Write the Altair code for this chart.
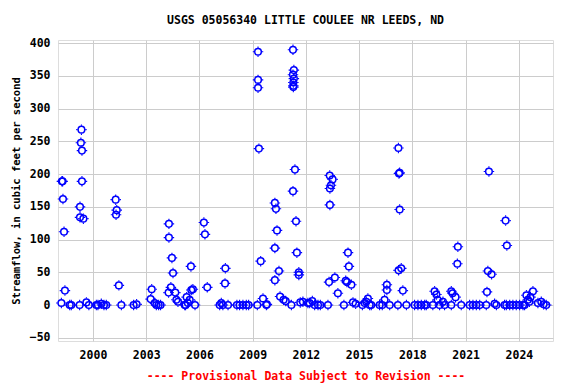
import altair as alt
import pandas as pd

years = [
    1998.22, 1998.25, 1998.29, 1998.31, 1998.37, 1998.42, 1998.69, 1998.78,
    1999.25, 1999.27, 1999.27, 1999.32, 1999.35, 1999.38, 1999.38, 1999.46,
    1999.63, 1999.77, 2000.19, 2000.28, 2000.47, 2000.62, 2000.75,
    2001.28, 2001.30, 2001.34, 2001.46, 2001.60, 2002.29, 2002.46,
    2003.25, 2003.31, 2003.48, 2003.57, 2003.70, 2003.81,
    2004.26, 2004.28, 2004.28, 2004.39, 2004.45, 2004.51, 2004.64, 2004.70, 2004.79,
    2005.17, 2005.22, 2005.28, 2005.35, 2005.45, 2005.52, 2005.54, 2005.63, 2005.75,
    2006.25, 2006.31, 2006.44,
    2007.14, 2007.23, 2007.32, 2007.44, 2007.46, 2007.61,
    2008.11, 2008.26, 2008.45, 2008.64, 2008.77,
    2009.26, 2009.30, 2009.30, 2009.30, 2009.35, 2009.45, 2009.58, 2009.77, 2009.80,
    2010.25, 2010.25, 2010.25, 2010.31, 2010.37, 2010.48, 2010.54, 2010.74, 2010.86,
    2011.18, 2011.27, 2011.27, 2011.27, 2011.29, 2011.29, 2011.29, 2011.32, 2011.32,
    2011.38, 2011.44, 2011.49, 2011.60, 2011.60, 2011.68, 2011.83,
    2012.11, 2012.21, 2012.36, 2012.49, 2012.68, 2012.81,
    2013.24, 2013.30, 2013.34, 2013.35, 2013.35, 2013.41, 2013.50, 2013.63, 2013.80,
    2014.14, 2014.24, 2014.31, 2014.37, 2014.42, 2014.56, 2014.65, 2014.80,
    2015.18, 2015.31, 2015.40, 2015.49, 2015.59, 2015.68,
    2016.15, 2016.30, 2016.43, 2016.56, 2016.56, 2016.72,
    2017.18, 2017.21, 2017.24, 2017.28, 2017.28, 2017.22, 2017.37, 2017.46, 2017.66,
    2018.12, 2018.31, 2018.50, 2018.69, 2018.78,
    2019.15, 2019.25, 2019.35, 2019.42, 2019.53, 2019.72, 2019.81,
    2020.19, 2020.19, 2020.26, 2020.43, 2020.53, 2020.56, 2020.75,
    2021.22, 2021.41, 2021.60, 2021.79,
    2022.16, 2022.20, 2022.25, 2022.31, 2022.46, 2022.63, 2022.73,
    2023.19, 2023.25, 2023.32, 2023.29, 2023.48, 2023.66, 2023.85,
    2024.04, 2024.23, 2024.32, 2024.42, 2024.51, 2024.59, 2024.65, 2024.79,
    2025.07, 2025.26, 2025.39, 2025.54,
]

flows = [
    3, 189, 189, 162, 112, 22, 0, 0,
    0, 150, 134, 248, 268, 236, 189, 132,
    4, 0, 0, 0, 2, 0, 0,
    161, 138, 145, 30, 0, 0, 1,
    9, 24, 3, 0, 0, 0,
    19, 124, 103, 27, 72, 49, 19, 8, 5,
    0, 0, 12, 3, 8, 59, 23, 24, 0,
    126, 108, 27,
    0, 3, 0, 33, 56, 0,
    0, 0, 0, 0, 0,
    0, 387, 344, 332, 239, 67, 10, 0, 1,
    156, 87, 38, 147, 114, 52, 13, 8, 6,
    0, 390, 352, 174, 340, 335, 333, 359, 346,
    207, 128, 80, 50, 46, 4, 5,
    3, 3, 6, 0, 0, 0,
    0, 35, 198, 178, 153, 183, 192, 42, 18,
    0, 37, 35, 80, 59, 31, 4, 2,
    0, 3, 5, 10, 0, 0,
    0, 0, 8, 31, 23, 0,
    0, 240, 201, 202, 146, 53, 56, 22, 0,
    0, 0, 0, 0, 0,
    0, 21, 16, 8, 0, 5, 0,
    0, 21, 18, 12, 63, 89, 0,
    0, 0, 0, 0,
    0, 20, 52, 204, 47, 2, 0,
    0, 129, 91, 0, 0, 0, 0,
    0, 0, 0, 15, 8, 5, 12, 21,
    3, 5, 1, 0,
]

x_ticks = [2000, 2003, 2006, 2009, 2012, 2015, 2018, 2021, 2024]
y_ticks = [-50, 0, 50, 100, 150, 200, 250, 300, 350, 400]

df = pd.DataFrame({"year": years, "flow": flows})

FONT = "DejaVu Sans Mono"
spikes = "M0,-0.72L0,-1M0,0.72L0,1M-0.72,0L-1,0M0.72,0L1,0"

x_enc = alt.X("year:Q",
              scale=alt.Scale(domain=[1998.03, 2025.92], nice=False, zero=False),
              axis=alt.Axis(values=x_ticks, format="d",
                            title="---- Provisional Data Subject to Revision ----",
                            titleColor="#ff0000", titleFont=FONT, titleFontSize=11.5, titleFontWeight="bold",
                            titlePadding=10, labelFont=FONT, labelFontSize=11.5, labelFontWeight="bold",
                            labelColor="black", labelPadding=8, ticks=False, domain=False,
                            grid=True, gridColor="#cccccc", gridWidth=1, labelFlush=False))
y_enc = alt.Y("flow:Q",
              scale=alt.Scale(domain=[-55, 405], nice=False, zero=False),
              axis=alt.Axis(values=y_ticks, title="Streamflow, in cubic feet per second",
                            titleFont=FONT, titleFontSize=10.5, titleFontWeight="bold", titleColor="black",
                            titlePadding=8, labelFont=FONT, labelFontSize=11.5, labelFontWeight="bold",
                            labelColor="black", labelPadding=8, ticks=False, domain=False,
                            grid=True, gridColor="#cccccc", gridWidth=1))

base = alt.Chart(df).encode(x=x_enc, y=y_enc)

circles = base.mark_point(shape="circle", filled=False, stroke="#0000ff",
                          strokeWidth=1.5, size=44, opacity=1)
ticks = base.mark_point(shape=spikes, filled=False, stroke="#0000ff",
                        strokeWidth=1.1, size=110, opacity=1)

chart = alt.layer(circles, ticks).properties(
    width=495,
    height=301,
    title=alt.TitleParams("USGS 05056340 LITTLE COULEE NR LEEDS, ND", font=FONT, fontSize=11.5,
                          fontWeight="bold", color="black", anchor="middle", offset=11),
    autosize=alt.AutoSizeParams(type="none"),
    padding={"left": 58, "top": 40, "right": 23, "bottom": 43},
).configure_view(
    stroke="black", strokeWidth=1.5
).configure(background="white")

chart.save("out.html", embed_options={"renderer": "svg", "actions": False})
